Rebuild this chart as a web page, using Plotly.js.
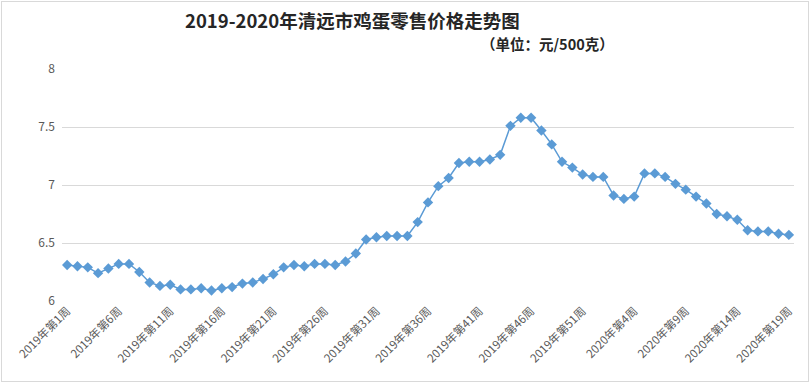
<!DOCTYPE html>
<html>
<head>
<meta charset="utf-8">
<script src="https://cdn.plot.ly/plotly-3.0.1.min.js"></script>
<style>
html,body{margin:0;padding:0;background:#fff;}
#wrap{position:relative;width:810px;height:384px;}
#chart{width:810px;height:384px;}
#border{position:absolute;left:1px;top:1px;width:806px;height:379px;border:1px solid #d9d9d9;pointer-events:none;}
</style>
</head>
<body>
<div id="wrap"><div id="chart"></div><div id="border"></div></div>
<script>
const weeks2019 = 52;
const weeks2020 = 19;
const categories = [];
for (let w = 1; w <= weeks2019; w++) categories.push('2019年第' + w + '周');
for (let w = 1; w <= weeks2020; w++) categories.push('2020年第' + w + '周');

const prices = [
  6.31, 6.30, 6.29, 6.24, 6.28, 6.32, 6.32, 6.25, 6.16, 6.13,
  6.14, 6.10, 6.10, 6.11, 6.09, 6.11, 6.12, 6.15, 6.16, 6.19,
  6.23, 6.29, 6.31, 6.30, 6.32, 6.32, 6.31, 6.34, 6.41, 6.53,
  6.55, 6.56, 6.56, 6.56, 6.68, 6.85, 6.99, 7.06, 7.19, 7.20,
  7.20, 7.22, 7.26, 7.51, 7.58, 7.58, 7.47, 7.35, 7.20, 7.15,
  7.09, 7.07, 7.07, 6.91, 6.88, 6.90, 7.10, 7.10, 7.07, 7.01,
  6.96, 6.90, 6.84, 6.75, 6.73, 6.70, 6.61, 6.60, 6.60, 6.58,
  6.57
];

const tickLabels = categories.filter((c, i) => i % 5 === 0);

const trace = {
  type: 'scatter',
  mode: 'lines+markers',
  x: categories,
  y: prices,
  line: {color: '#5b9bd5', width: 1.5},
  marker: {symbol: 'diamond', size: 8, color: '#5b9bd5'},
  hoverinfo: 'x+y'
};

const layout = {
  width: 810, height: 384,
  margin: {l: 62, r: 16, t: 69, b: 83},
  paper_bgcolor: '#ffffff',
  plot_bgcolor: '#ffffff',
  showlegend: false,
  font: {family: '"Noto Sans CJK SC", "Noto Sans", sans-serif', color: '#595959'},
  title: {
    text: '<b>2019-2020年清远市鸡蛋零售价格走势图</b>',
    font: {size: 18.5, color: '#262626', family: '"Noto Sans CJK SC", sans-serif'},
    xref: 'container', yref: 'container',
    x: 0.435, xanchor: 'center', y: 0.943, yanchor: 'middle'
  },
  annotations: [{
    text: '<b>（单位：元/500克）</b>',
    xref: 'paper', yref: 'paper',
    x: (616 - 62) / 732, xanchor: 'right',
    y: (301 - 43) / 232, yanchor: 'middle',
    showarrow: false,
    font: {size: 14.5, color: '#262626', family: '"Noto Sans CJK SC", sans-serif'}
  }],
  xaxis: {
    type: 'category',
    categoryorder: 'array',
    categoryarray: categories,
    range: [-0.5, categories.length - 0.5],
    tickmode: 'array',
    tickvals: tickLabels,
    ticktext: tickLabels,
    tickangle: -45,
    tickfont: {size: 11.5, color: '#595959'},
    showgrid: false,
    showline: false,
    zeroline: false,
    ticks: ''
  },
  yaxis: {
    range: [6, 8],
    tickvals: [6, 6.5, 7, 7.5, 8],
    ticktext: ['6', '6.5', '7', '7.5', '8'],
    tickfont: {size: 12, color: '#595959'},
    gridcolor: '#d9d9d9',
    gridwidth: 1,
    zeroline: false,
    showline: false,
    ticks: '',
    ticklabelstandoff: 6
  }
};

Plotly.newPlot('chart', [trace], layout, {displayModeBar: false, staticPlot: true});
</script>
</body>
</html>
